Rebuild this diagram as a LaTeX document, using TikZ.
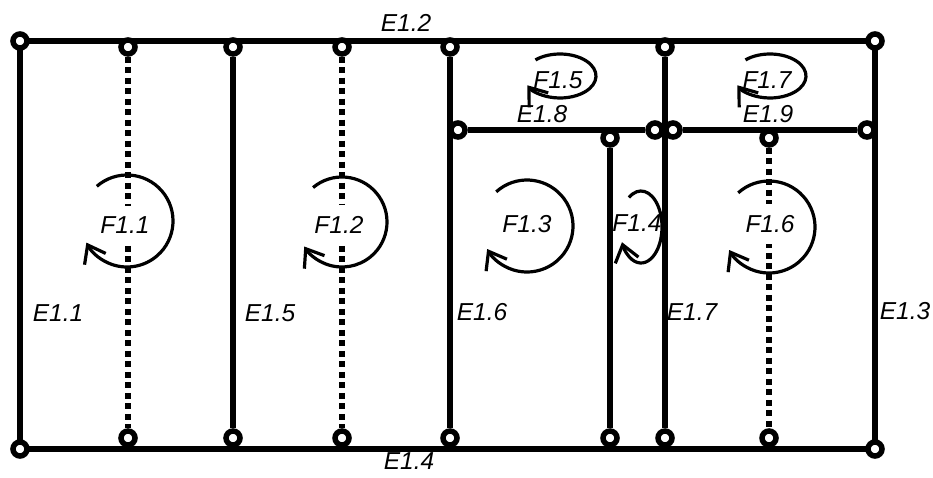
\documentclass[tikz,border=0pt]{standalone}
\usepackage{fontspec}
\setmainfont{Liberation Sans}
\usepackage{tikz}
\usetikzlibrary{arrows.meta, backgrounds}

\tikzset{
  vtx/.style={circle, draw, line width=5.5pt, fill=white, minimum size=14pt, inner sep=0pt},
  edge/.style={line width=5.5pt},
  dots/.style={line width=6pt, dash pattern=on 6pt off 4.5pt},
  turn/.style={line width=3.2pt, -{Straight Barb[length=16pt, width=24pt]}},
  lab/.style={font=\fontsize{24.5}{29}\selectfont\itshape, inner sep=1pt},
  labw/.style={lab, fill=white, inner ysep=11pt}
}

\begin{document}
\begin{tikzpicture}[x=1pt, y=1pt]
  \useasboundingbox (0,0) rectangle (933,477);

  % Corners
  \node[vtx] (c1) at (20,436) {};
  \node[vtx] (c2) at (875,436) {};
  \node[vtx] (c3) at (20,28) {};
  \node[vtx] (c4) at (875,28) {};

  % Top and bottom ends
  \node[vtx] (t1) at (128,430) {};
  \node[vtx] (t2) at (233,430) {};
  \node[vtx] (t3) at (342,430) {};
  \node[vtx] (t4) at (450,430) {};
  \node[vtx] (t5) at (665,430) {};
  \node[vtx] (b1) at (128,39) {};
  \node[vtx] (b2) at (233,39) {};
  \node[vtx] (b3) at (342,39) {};
  \node[vtx] (b4) at (450,39) {};
  \node[vtx] (b5) at (610,39) {};
  \node[vtx] (b6) at (665,39) {};
  \node[vtx] (b7) at (769,39) {};

  % Middle ends
  \node[vtx] (m1) at (458,347) {};
  \node[vtx] (m2) at (655,347) {};
  \node[vtx] (m3) at (673,347) {};
  \node[vtx] (m4) at (867,347) {};
  \node[vtx] (i1) at (610,339) {};
  \node[vtx] (i2) at (769,339) {};

  % Edges
  \begin{scope}[on background layer]
    \draw[edge] (c1.center) -- (c2.center) -- (c4.center) -- (c3.center) -- cycle;
    \draw[edge] (t2) -- (b2);
    \draw[edge] (t4) -- (b4);
    \draw[edge] (t5) -- (b6);
    \draw[edge] (i1) -- (b5);
    \draw[edge] (m1) -- (m2);
    \draw[edge] (m3) -- (m4);
    \draw[dots] (t1) -- (b1);
    \draw[dots] (t3) -- (b3);
    \draw[dots] (i2) -- (b7);
  \end{scope}

  % Edge labels
  \node[lab] (e11) at (58,164) {E1.1};
  \node[lab] (e12) at (406,454) {E1.2};
  \node[lab] (e13) at (905,166) {E1.3};
  \node[lab] (e14) at (409,16) {E1.4};
  \node[lab] (e15) at (270,164) {E1.5};
  \node[lab] (e16) at (482,165) {E1.6};
  \node[lab] (e17) at (692,165) {E1.7};
  \node[lab] (e18) at (542,363) {E1.8};
  \node[lab] (e19) at (768,363) {E1.9};

  % Face labels
  \node[labw] (f11) at (125,252) {F1.1};
  \node[labw] (f12) at (339,252) {F1.2};
  \node[lab] (f13) at (527,253) {F1.3};
  \node[lab] (f14) at (637,254) {F1.4};
  \node[lab] (f15) at (558,397) {F1.5};
  \node[labw] (f16) at (770,253) {F1.6};
  \node[lab] (f17) at (767,397) {F1.7};

  % Orientation
  \draw[turn] (127,256) ++(131:46) arc[start angle=131, end angle=-152, radius=46];
  \draw[turn] (342,255) ++(130:45) arc[start angle=130, end angle=-147, radius=45];
  \draw[turn] (527,251) ++(132:46) arc[start angle=132, end angle=-150, radius=46];
  \draw[turn] (769,250) ++(132:46) arc[start angle=132, end angle=-150, radius=46];
  \draw[turn] (641,250) ++({21*cos(125)},{36*sin(125)}) arc[start angle=125, end angle=-155, x radius=21, y radius=36];
  \draw[turn] (560,401) ++({36*cos(133)},{22*sin(133)}) arc[start angle=133, end angle=-155, x radius=36, y radius=22];
  \draw[turn] (770,401) ++({36*cos(133)},{22*sin(133)}) arc[start angle=133, end angle=-155, x radius=36, y radius=22];
\end{tikzpicture}
\end{document}
